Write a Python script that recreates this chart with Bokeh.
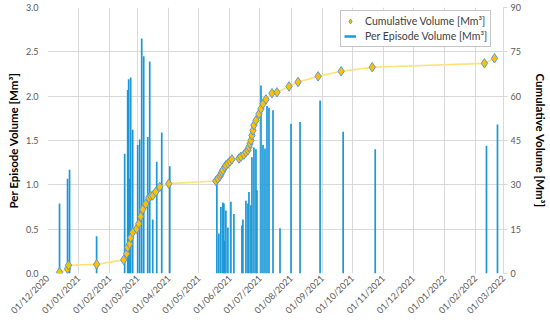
import math
from datetime import datetime
from bokeh.plotting import figure
from bokeh.models import (Range1d, LinearAxis, SingleIntervalTicker, MonthsTicker,
                          DatetimeTickFormatter, Legend, LegendItem, ColumnDataSource,
                          NumeralTickFormatter)
from bokeh.embed import file_html
from bokeh.resources import INLINE

# ---- data ----
episode_dates = [
    "2020-12-13", "2020-12-21", "2020-12-23", "2021-01-19",
    "2021-02-16", "2021-02-19", "2021-02-20", "2021-02-21", "2021-02-22", "2021-02-24",
    "2021-03-01", "2021-03-03", "2021-03-05", "2021-03-07", "2021-03-11", "2021-03-13",
    "2021-03-16", "2021-03-20", "2021-03-25", "2021-04-02",
    "2021-05-19", "2021-05-21", "2021-05-23", "2021-05-25", "2021-05-26", "2021-05-27",
    "2021-05-28", "2021-05-30", "2021-06-02", "2021-06-05", "2021-06-13", "2021-06-14",
    "2021-06-17", "2021-06-19", "2021-06-20", "2021-06-22", "2021-06-23", "2021-06-25",
    "2021-06-27", "2021-06-28", "2021-07-02", "2021-07-04", "2021-07-06", "2021-07-08",
    "2021-07-10", "2021-07-14", "2021-07-21", "2021-08-01", "2021-08-10", "2021-08-30",
    "2021-09-22", "2021-10-24", "2022-02-12", "2022-02-23",
]
episode_volume = [
    0.79, 1.07, 1.17, 0.42,
    1.35, 2.07, 2.19, 1.07, 2.21, 1.62,
    1.45, 1.51, 2.65, 2.45, 1.54, 2.39,
    0.61, 1.26, 1.59, 1.21,
    1.03, 0.45, 0.75, 0.80, 0.79, 0.37,
    0.71, 0.52, 0.81, 0.67, 0.54, 0.61,
    0.82, 0.79, 0.92, 0.77, 1.31, 1.42,
    1.40, 0.94, 2.12, 1.45, 1.41, 1.89,
    1.87, 1.84, 0.51, 1.69, 1.71, 1.95,
    1.60, 1.40, 1.44, 1.68,
]

cum_dates = [
    "2020-12-13", "2020-12-21", "2020-12-22", "2021-01-19", "2021-02-15", "2021-02-18",
    "2021-02-19", "2021-02-21", "2021-02-22", "2021-02-24", "2021-02-28", "2021-03-02",
    "2021-03-04", "2021-03-06", "2021-03-09", "2021-03-12", "2021-03-14", "2021-03-16",
    "2021-03-19", "2021-03-23", "2021-04-01", "2021-05-18", "2021-05-20", "2021-05-22",
    "2021-05-23", "2021-05-24", "2021-05-25", "2021-05-27", "2021-05-28", "2021-05-30",
    "2021-06-01", "2021-06-03", "2021-06-10", "2021-06-12", "2021-06-15", "2021-06-17",
    "2021-06-19", "2021-06-20", "2021-06-21", "2021-06-22", "2021-06-23", "2021-06-24",
    "2021-06-25", "2021-06-27", "2021-06-30", "2021-07-02", "2021-07-04", "2021-07-07",
    "2021-07-13", "2021-07-18", "2021-07-30", "2021-08-08", "2021-08-28", "2021-09-20",
    "2021-10-21", "2022-02-10", "2022-02-20",
]
cum_volume = [
    0.4, 1.6, 2.8, 3.1, 4.6, 6.7,
    8.8, 10.0, 12.1, 13.9, 15.1, 16.8,
    19.3, 21.7, 23.5, 25.6, 26.2, 26.4,
    27.6, 29.3, 30.4, 31.3, 32.1, 32.9,
    33.6, 34.3, 35.0, 36.0, 36.6, 37.2,
    37.9, 38.6, 38.9, 39.5, 40.2, 41.0,
    41.7, 42.8, 43.9, 45.0, 46.7, 48.4,
    50.2, 51.8, 54.0, 55.7, 57.4, 58.9,
    61.0, 61.3, 63.3, 64.8, 66.7, 68.4,
    69.8, 71.1, 72.8,
]

left_label = "Per Episode Volume [Mm³]"
right_label = "Cumulative Volume [Mm³]"
cum_name = "Cumulative Volume [Mm³]"
ep_name = "Per Episode Volume [Mm³]"

# ---- build ----
to_dt = lambda s: datetime.strptime(s, "%Y-%m-%d")
ep_src = ColumnDataSource(dict(x=[to_dt(d) for d in episode_dates], top=episode_volume))
cum_src = ColumnDataSource(dict(x=[to_dt(d) for d in cum_dates], y=cum_volume))

FONT = "Lato"
TICK_COLOR = "#595959"
BAR_COLOR = "#1c98d8"
p = figure(width=550, height=324, x_axis_type="datetime",
           x_range=Range1d(datetime(2020, 12, 1), datetime(2022, 3, 1)),
           y_range=Range1d(0, 3.0),
           output_backend="svg", toolbar_location=None,
           min_border_left=47, min_border_right=47, min_border_top=7, min_border_bottom=51)
p.outline_line_color = None
p.background_fill_color = "white"
p.border_fill_color = "white"

p.extra_y_ranges = {"cum": Range1d(0, 90)}

DAY = 86400000
p.vbar(x="x", top="top", width=1.7 * DAY, source=ep_src,
       fill_color=BAR_COLOR, line_color=None)

p.line(x="x", y="y", source=cum_src, y_range_name="cum", line_color="#FFE27A", line_width=1.6)
pts = p.scatter(x="x", y="y", source=cum_src, y_range_name="cum", marker="diamond",
                size=9.5, fill_color="#FFC000", line_color="#5B9BD5", line_width=1)

# legend-only line renderer (hidden in the plot area)
legend_line = p.line(x="x", y="top", source=ep_src, line_color=BAR_COLOR, line_width=2.5,
                     visible=False)

# axes
xticker = MonthsTicker(months=list(range(1, 13)))
xax = p.xaxis[0]
xax.ticker = xticker
xax.formatter = DatetimeTickFormatter(days="%d/%m/%Y", months="%d/%m/%Y", years="%d/%m/%Y")
xax.major_label_orientation = math.pi / 4
xax.axis_line_color = None
xax.major_tick_line_color = None
xax.major_tick_out = 0
xax.major_tick_in = 0
xax.minor_tick_line_color = None
xax.minor_tick_out = 0
xax.major_label_text_font = FONT
xax.major_label_text_font_size = "9px"
xax.major_label_text_color = TICK_COLOR
xax.major_label_standoff = 3

yticker = SingleIntervalTicker(interval=0.5)
yax = p.yaxis[0]
yax.ticker = yticker
yax.formatter = NumeralTickFormatter(format="0.0")
yax.axis_line_color = None
yax.major_tick_line_color = None
yax.major_tick_out = 0
yax.major_tick_in = 0
yax.minor_tick_line_color = None
yax.minor_tick_out = 0
yax.major_label_text_font = FONT
yax.major_label_text_font_size = "9px"
yax.major_label_text_color = TICK_COLOR
yax.major_label_standoff = 9
yax.axis_label = left_label
yax.axis_label_text_font = FONT
yax.axis_label_text_font_style = "bold"
yax.axis_label_text_font_size = "11.5px"
yax.axis_label_text_color = "#000000"
yax.axis_label_standoff = 3

ry = LinearAxis(y_range_name="cum", ticker=SingleIntervalTicker(interval=15),
                axis_label=right_label)
ry.axis_line_color = "#d9d9d9"
ry.major_tick_line_color = "#d9d9d9"
ry.major_tick_in = 0
ry.major_tick_out = 4
ry.minor_tick_line_color = None
ry.minor_tick_out = 0
ry.major_label_text_font = FONT
ry.major_label_text_font_size = "9px"
ry.major_label_text_color = TICK_COLOR
ry.major_label_standoff = 3
ry.axis_label_text_font = FONT
ry.axis_label_text_font_style = "bold"
ry.axis_label_text_font_size = "11.5px"
ry.axis_label_text_color = "#000000"
ry.axis_label_standoff = 10
p.add_layout(ry, "right")

p.xgrid[0].grid_line_color = "#d9d9d9"
p.ygrid[0].grid_line_color = "#d9d9d9"
p.xgrid[0].ticker = xticker
p.ygrid[0].ticker = yticker

legend = Legend(items=[LegendItem(label=cum_name, renderers=[pts]),
                       LegendItem(label=ep_name, renderers=[legend_line])],
                location=(293, 226))
legend.border_line_color = "#8c8c8c"
legend.border_line_width = 1
legend.background_fill_color = "white"
legend.background_fill_alpha = 1.0
legend.inactive_fill_alpha = 0.0
legend.label_text_font = FONT
legend.label_text_font_size = "10.5px"
legend.label_text_color = "#404040"
legend.padding = 3
legend.spacing = 1
legend.margin = 0
legend.glyph_width = 12
legend.glyph_height = 14
legend.label_height = 14
legend.label_standoff = 9
legend.click_policy = "none"
p.add_layout(legend, "center")

open("out.html", "w").write(file_html(p, INLINE))
